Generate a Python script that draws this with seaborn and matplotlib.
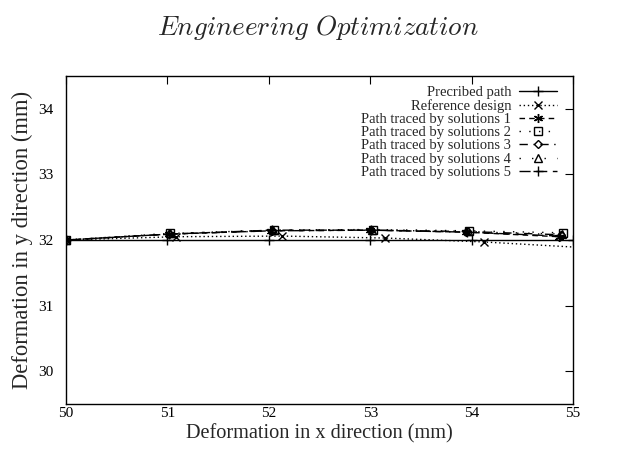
import matplotlib
matplotlib.use("Agg")
import matplotlib.pyplot as plt
import seaborn as sns
import pandas as pd

sns.set_theme(style="white")
plt.rcParams['font.family'] = ['Liberation Serif', 'DejaVu Serif']
plt.rcParams['mathtext.fontset'] = 'cm'

# Data
prescribed_x = [50, 51, 52, 53, 54, 55]
prescribed_y = [32.0, 32.0, 32.0, 32.0, 32.0, 32.0]

reference_x = [50, 51.08, 52.13, 53.15, 54.12, 55.15]
reference_y = [32.0, 32.05, 32.06, 32.03, 31.97, 31.88]

sol1_x = [50, 51.02, 52.02, 53.00, 53.94, 54.86]
sol1_y = [32.0, 32.09, 32.14, 32.15, 32.12, 32.05]
sol2_x = [50, 51.03, 52.05, 53.03, 53.97, 54.90]
sol2_y = [32.0, 32.10, 32.15, 32.16, 32.14, 32.11]
sol3_x = [50, 51.02, 52.03, 53.01, 53.95, 54.88]
sol3_y = [32.0, 32.09, 32.14, 32.15, 32.13, 32.08]
sol4_x = [50, 51.03, 52.04, 53.02, 53.96, 54.89]
sol4_y = [32.0, 32.10, 32.15, 32.16, 32.13, 32.09]
sol5_x = [50, 51.02, 52.03, 53.01, 53.95, 54.87]
sol5_y = [32.0, 32.09, 32.15, 32.15, 32.12, 32.06]

labels = ["Precribed path", "Reference design",
          "Path traced by solutions 1", "Path traced by solutions 2",
          "Path traced by solutions 3", "Path traced by solutions 4",
          "Path traced by solutions 5"]

series = [(prescribed_x, prescribed_y), (reference_x, reference_y),
          (sol1_x, sol1_y), (sol2_x, sol2_y), (sol3_x, sol3_y),
          (sol4_x, sol4_y), (sol5_x, sol5_y)]

styles = [
    dict(marker='+', ls='-', ms=7),
    dict(marker='x', ls=(0, (1, 2)), ms=6),
    dict(marker=(6, 2, 0), ls=(0, (4, 3)), ms=6.5),
    dict(marker='s', ls=(0, (1, 6)), ms=5.5),
    dict(marker='D', ls=(0, (6, 4, 1, 4)), ms=4),
    dict(marker='^', ls=(0, (1, 8)), ms=6),
    dict(marker='+', ls=(0, (8, 4)), ms=7),
]

fig = plt.figure(figsize=(6.36, 4.49), dpi=100)
ax = fig.add_axes([66/636, 1-404/449, (573-66)/636, (404-76)/449])

for (xs, ys), lab, st in zip(series, labels, styles):
    df = pd.DataFrame({'x': xs, 'y': ys})
    sns.lineplot(data=df, x='x', y='y', ax=ax, sort=False, color='black',
                 linewidth=1.0, linestyle=st['ls'], marker=st['marker'],
                 markersize=st['ms'], markerfacecolor='none',
                 markeredgecolor='black', markeredgewidth=1.0, label=lab,
                 clip_on=True)

ax.set_xlim(50, 55)
ax.set_ylim(29.5, 34.5)
ax.set_xticks([50, 51, 52, 53, 54, 55])
ax.set_yticks([30, 31, 32, 33, 34])
ax.tick_params(direction='in', length=6, width=0.8, top=True, right=True,
               labelsize=11, colors='black')
ax.tick_params(axis='x', pad=2)
ax.tick_params(axis='y', pad=9)
for s in ax.spines.values():
    s.set_color('black')
    s.set_linewidth(1.0)

ax.set_xlabel("Deformation in x direction (mm)", fontsize=14.6, labelpad=3)
ax.set_ylabel("Deformation in y direction (mm)", fontsize=16.3, labelpad=4)

leg = ax.legend(loc='upper right', frameon=False, markerfirst=False,
                fontsize=10.5, labelspacing=0.0, handlelength=2.6,
                handletextpad=0.55, borderaxespad=0.0,
                bbox_to_anchor=(1 - 10/507, 1 - 4/328))

fig.text(0.5, 1-27/449, r"$\mathit{Engineering\ Optimization}$",
         ha='center', va='center', fontsize=19.5)

fig.savefig("out.png", dpi=100)
